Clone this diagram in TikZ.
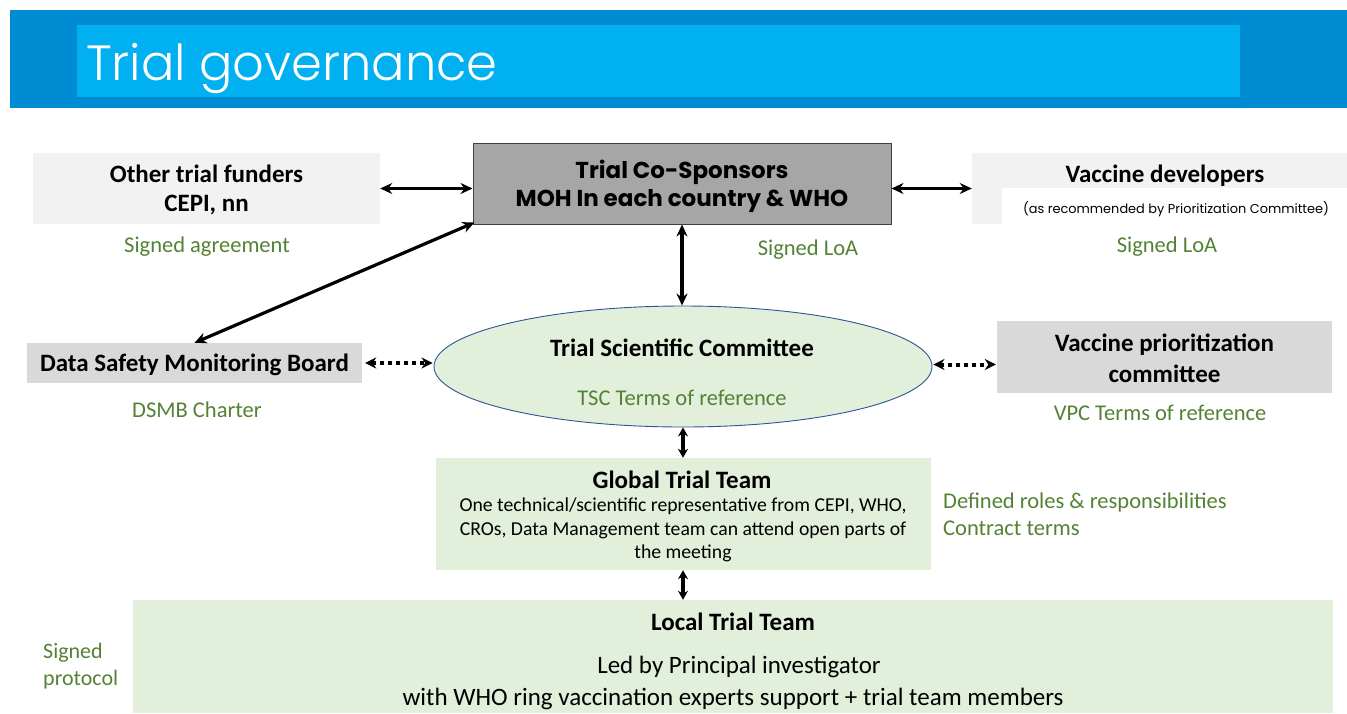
\documentclass[tikz,border=0pt]{standalone}
\usepackage{fontspec}
\usetikzlibrary{arrows.meta,shapes.geometric}
\setmainfont{Carlito}
\newfontfamily\gothic{Poppins}
\IfFontExistsTF{Poppins Light}{\newfontfamily\gothiclight{Poppins Light}}{\newfontfamily\gothiclight{Poppins}}
\definecolor{bardark}{RGB}{0,140,210}
\definecolor{barlight}{RGB}{0,176,240}
\definecolor{palegray}{RGB}{242,242,242}
\definecolor{midgray}{RGB}{217,217,217}
\definecolor{darkgray}{RGB}{166,166,166}
\definecolor{palegreen}{RGB}{226,239,218}
\definecolor{notegreen}{RGB}{84,130,53}
\definecolor{ovalline}{RGB}{47,85,151}
\begin{document}
\begin{tikzpicture}[x=1pt,y=-1pt,
  label/.style={inner sep=0pt, align=center},
  heading/.style={inner sep=0pt, align=center, font=\bfseries\fontsize{25}{29}\selectfont},
  note/.style={inner sep=0pt, text=notegreen, font=\fontsize{22.5}{27}\selectfont},
  link/.style={line width=3.2pt, {Stealth[length=12pt,width=11pt]}-{Stealth[length=12pt,width=11pt]}},
  shortlink/.style={line width=3.5pt, {Stealth[length=9pt,width=10pt]}-{Stealth[length=9pt,width=10pt]}},
  dotlink/.style={line width=4pt, dash pattern=on 4pt off 4pt, {Stealth[length=11pt,width=11pt]}-{Stealth[length=11pt,width=11pt]}}]
\useasboundingbox (0,0) rectangle (1347,713);

% title banner
\fill[bardark] (10,10) rectangle (1347,108);
\fill[barlight] (77,25) rectangle (1240,97);
\node[anchor=base west, inner sep=0pt, text=white, font=\gothiclight\fontsize{49.5}{56}\selectfont] (title) at (86,80) {Trial governance};

% top row
\node[fill=palegray, inner sep=0pt, minimum width=347pt, minimum height=71pt] (funders) at (206.5,188.5) {};
\node[heading] (fundersname) at (206.5,190) {Other trial funders\\CEPI, nn};
\node[fill=darkgray, draw=black!75, line width=1pt, inner sep=0pt, minimum width=418pt, minimum height=81pt] (sponsors) at (682,183.5) {};
\node[label, font=\gothic\bfseries\fontsize{23}{28}\selectfont] (sponsorsname) at (682,186) {Trial Co-Sponsors\\MOH In each country \& WHO};
\node[fill=palegray, inner sep=0pt, minimum width=375pt, minimum height=71pt] (developers) at (1159.5,188.5) {};
\fill[white] (1002,188) rectangle (1347,224);
\node[heading] (devname) at (1165,175.5) {Vaccine developers};
\node[label, font=\gothic\fontsize{12.9}{15}\selectfont] (devnote) at (1176,209.5) {(as recommended by Prioritization Committee)};

\node[note] (agreement) at (207,247) {Signed agreement};
\node[note] (loamid) at (808,250) {Signed LoA};
\node[note] (loaright) at (1167,247) {Signed LoA};

% middle row
\node[fill=midgray, inner sep=0pt, minimum width=335pt, minimum height=40pt] (dsmb) at (194.5,363) {};
\node[heading] (dsmbname) at (194.5,365) {Data Safety Monitoring Board};
\node[note] (charter) at (197,410) {DSMB Charter};

\node[ellipse, fill=palegreen, draw=ovalline, line width=0.9pt, inner sep=0pt, minimum width=498pt, minimum height=121pt] (tsc) at (683,366.5) {};
\node[heading] (tscname) at (682,348) {Trial Scientific Committee};
\node[note] (tscref) at (682,398) {TSC Terms of reference};

\node[fill=midgray, inner sep=0pt, minimum width=335pt, minimum height=72pt] (vpc) at (1164.5,357) {};
\node[label, font=\bfseries\fontsize{25}{31}\selectfont] (vpcname) at (1164.5,358.5) {Vaccine prioritization\\committee};
\node[note] (vpcref) at (1160,413) {VPC Terms of reference};

% global trial team
\node[fill=palegreen, inner sep=0pt, minimum width=495pt, minimum height=112pt] (global) at (683.5,514) {};
\node[heading] (globalname) at (682,480) {Global Trial Team};
\node[label, font=\fontsize{19.7}{23.5}\selectfont] (globaltext) at (683,530) {One technical/scientific representative from CEPI, WHO,\\CROs, Data Management team can attend open parts of\\the meeting};
\node[note, anchor=west, align=left] (roles) at (943,514.5) {Defined roles \& responsibilities\\Contract terms};

% local trial team
\node[fill=palegreen, inner sep=0pt, minimum width=1200pt, minimum height=113pt] (local) at (733,656.5) {};
\node[heading] (localname) at (733,622) {Local Trial Team};
\node[label, font=\fontsize{25}{29}\selectfont] (localled) at (739,666.5) {Led by Principal investigator};
\node[label, font=\fontsize{25}{29}\selectfont] (localwith) at (733,698.5) {with WHO ring vaccination experts support + trial team members};
\node[note, anchor=west, align=left, font=\fontsize{22}{27}\selectfont] (protocol) at (43,666.5) {Signed\\protocol};

% connectors
\draw[link] (funders.east) -- (funders.east -| sponsors.west);
\draw[link] (developers.west -| sponsors.east) -- (developers.west);
\draw[link] (dsmb.north) -- ([xshift=2pt,yshift=2pt]sponsors.south west);
\draw[link] (sponsors.south) -- (sponsors.south |- tsc.north);
\draw[dotlink, shorten <=3pt, shorten >=1pt] (dsmb.east) -- (dsmb.east -| tsc.west);
\draw[dotlink, shorten >=1pt, shorten <=1pt] ([yshift=2pt]tsc.east) -- ([yshift=2pt]tsc.east -| vpc.west);
\draw[shortlink] (tsc.south) -- (global.north -| tsc.south);
\draw[shortlink] (global.south -| tsc.south) -- (local.north -| tsc.south);
\end{tikzpicture}
\end{document}
